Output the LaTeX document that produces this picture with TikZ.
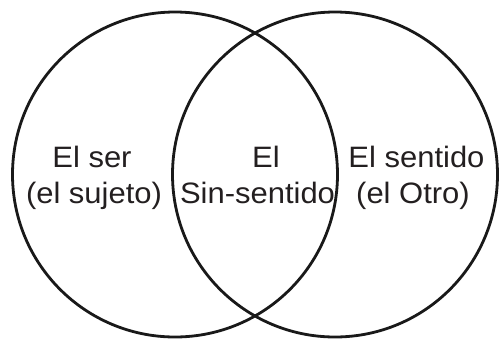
\documentclass[tikz,border=0pt]{standalone}
\usepackage{fontspec}
\setmainfont[FakeStretch=1.05]{Liberation Sans}
\definecolor{ink}{HTML}{231F20}
\begin{document}
\begin{tikzpicture}[x=1pt,y=-1pt]
\tikzset{
  ring/.style={draw=black!90, line width=2.8pt},
  lbl/.style={anchor=base, inner sep=0pt, text=ink, font=\fontsize{29.5}{34}\selectfont}
}
\useasboundingbox (0,0) rectangle (503,341);
\draw[ring] (175,174.5) circle[radius=162.5];
\draw[ring] (335,174.5) circle[radius=162.5];
\node[lbl] (serA) at (92,167) {El ser};
\node[lbl] (serB) at (94,203) {(el sujeto)};
\node[lbl] (sinA) at (266,167) {El};
\node[lbl] (sinB) at (257.5,203) {Sin-sentido};
\node[lbl] (otrA) at (416.5,167) {El sentido};
\node[lbl] (otrB) at (413,203) {(el Otro)};
\end{tikzpicture}
\end{document}
